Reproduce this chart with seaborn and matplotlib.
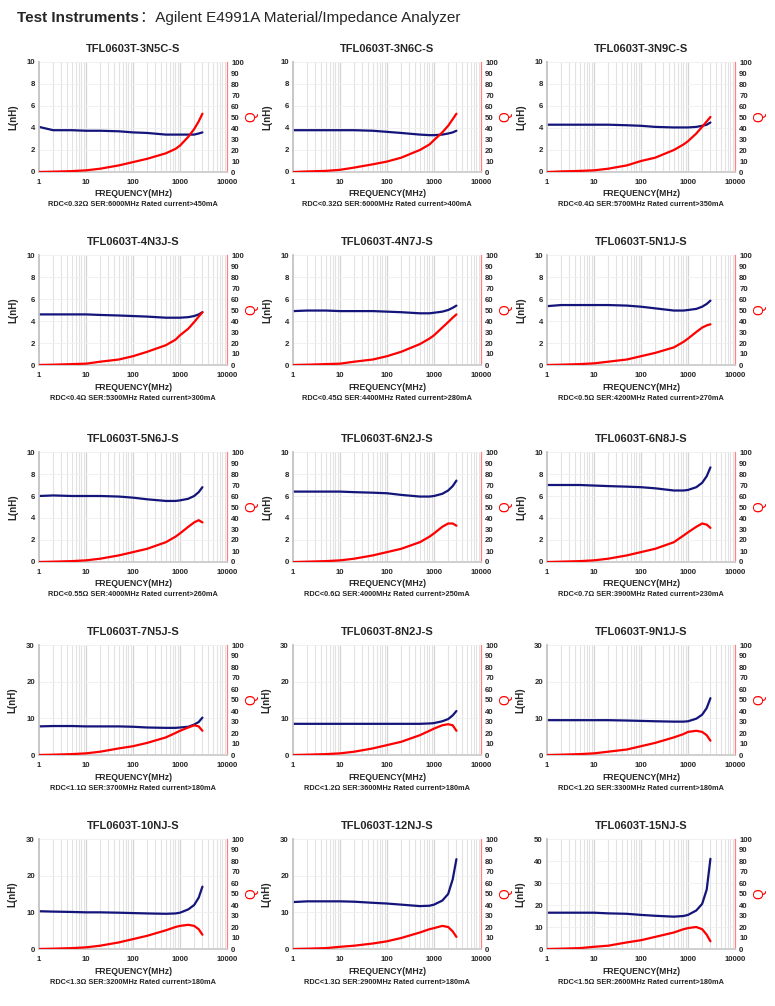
import numpy as np
import matplotlib
matplotlib.use("Agg")
import matplotlib.pyplot as plt
import seaborn as sns
from matplotlib.ticker import FixedLocator, NullFormatter

# frequency sample points (MHz) shared by all curves
FREQ = [1, 2, 5, 10, 20, 50, 100, 200, 500, 800, 1000, 1500, 2000, 2500, 3000]

titles = [
    "TFL0603T-3N5C-S", "TFL0603T-3N6C-S", "TFL0603T-3N9C-S",
    "TFL0603T-4N3J-S", "TFL0603T-4N7J-S", "TFL0603T-5N1J-S",
    "TFL0603T-5N6J-S", "TFL0603T-6N2J-S", "TFL0603T-6N8J-S",
    "TFL0603T-7N5J-S", "TFL0603T-8N2J-S", "TFL0603T-9N1J-S",
    "TFL0603T-10NJ-S", "TFL0603T-12NJ-S", "TFL0603T-15NJ-S",
]

footers = [
    "RDC<0.32Ω SER:6000MHz Rated current>450mA",
    "RDC<0.32Ω SER:6000MHz Rated current>400mA",
    "RDC<0.4Ω SER:5700MHz Rated current>350mA",
    "RDC<0.4Ω SER:5300MHz Rated current>300mA",
    "RDC<0.45Ω SER:4400MHz Rated current>280mA",
    "RDC<0.5Ω SER:4200MHz Rated current>270mA",
    "RDC<0.55Ω SER:4000MHz Rated current>260mA",
    "RDC<0.6Ω SER:4000MHz Rated current>250mA",
    "RDC<0.7Ω SER:3900MHz Rated current>230mA",
    "RDC<1.1Ω SER:3700MHz Rated current>180mA",
    "RDC<1.2Ω SER:3600MHz Rated current>180mA",
    "RDC<1.2Ω SER:3300MHz Rated current>180mA",
    "RDC<1.3Ω SER:3200MHz Rated current>180mA",
    "RDC<1.3Ω SER:2900MHz Rated current>180mA",
    "RDC<1.5Ω SER:2600MHz Rated current>180mA",
]

# upper limit and tick step of the L axis for each panel
l_max = [10, 10, 10, 10, 10, 10, 10, 10, 10, 30, 30, 30, 30, 30, 50]
l_step = [2, 2, 2, 2, 2, 2, 2, 2, 2, 10, 10, 10, 10, 10, 10]

# inductance L (nH) read at FREQ
l_curves = [
    [4.1, 3.8, 3.8, 3.75, 3.75, 3.7, 3.6, 3.55, 3.4, 3.4, 3.4, 3.4, 3.4, 3.5, 3.6],
    [3.8, 3.8, 3.8, 3.8, 3.8, 3.75, 3.65, 3.55, 3.4, 3.35, 3.35, 3.4, 3.5, 3.6, 3.75],
    [4.3, 4.3, 4.3, 4.3, 4.3, 4.25, 4.2, 4.1, 4.05, 4.05, 4.05, 4.1, 4.2, 4.3, 4.5],
    [4.6, 4.6, 4.6, 4.6, 4.55, 4.5, 4.45, 4.4, 4.3, 4.3, 4.3, 4.35, 4.45, 4.6, 4.8],
    [4.9, 4.95, 4.95, 4.9, 4.9, 4.9, 4.85, 4.8, 4.7, 4.7, 4.75, 4.85, 5.0, 5.2, 5.4],
    [5.35, 5.45, 5.45, 5.45, 5.45, 5.4, 5.3, 5.15, 4.95, 4.95, 5.0, 5.1, 5.3, 5.55, 5.85],
    [6.0, 6.05, 6.0, 6.0, 6.0, 5.95, 5.85, 5.7, 5.55, 5.55, 5.6, 5.75, 6.0, 6.35, 6.8],
    [6.4, 6.4, 6.4, 6.4, 6.35, 6.3, 6.25, 6.1, 5.95, 5.95, 6.0, 6.2, 6.5, 6.9, 7.4],
    [7.0, 7.0, 7.0, 6.95, 6.9, 6.85, 6.8, 6.7, 6.5, 6.5, 6.55, 6.8, 7.2, 7.8, 8.6],
    [7.8, 7.9, 7.9, 7.8, 7.8, 7.8, 7.7, 7.5, 7.4, 7.4, 7.5, 7.7, 8.3, 9.0, 10.2],
    [8.5, 8.5, 8.5, 8.5, 8.5, 8.5, 8.5, 8.5, 8.5, 8.6, 8.7, 9.2, 9.8, 10.8, 12.0],
    [9.5, 9.5, 9.5, 9.5, 9.5, 9.4, 9.3, 9.2, 9.1, 9.1, 9.2, 9.9, 11.0, 12.8, 15.5],
    [10.3, 10.2, 10.1, 10.0, 10.0, 9.9, 9.8, 9.7, 9.6, 9.7, 9.9, 10.8, 12.0, 14.0, 17.0],
    [12.8, 13.0, 13.0, 13.0, 12.9, 12.6, 12.4, 12.1, 11.7, 11.8, 12.1, 13.2, 15.0, 19.0, 24.5],
    [16.5, 16.5, 16.5, 16.5, 16.2, 16.0, 15.5, 15.1, 14.7, 15.0, 15.5, 17.5, 20.5, 27.0, 41.0],
]

# quality factor Q read at FREQ
q_curves = [
    [0, 0.3, 0.8, 1.5, 3, 6, 9, 12, 17, 21, 24, 32, 39, 46, 53],
    [0, 0.5, 1, 2, 4, 7, 9.5, 13, 20, 25, 29, 36, 42, 48, 53],
    [0, 0.5, 1, 1.5, 3, 6, 10, 13, 20, 25, 28, 35, 41, 46, 50],
    [0, 0.3, 0.8, 1.2, 3, 5, 8, 12, 18, 23, 27, 33, 39, 44, 48],
    [0, 0.3, 0.8, 1.2, 3, 5, 8, 12, 19, 24, 27, 34, 39, 43, 46],
    [0, 0.3, 0.8, 1.5, 3, 5, 8, 11, 16, 21, 24, 30, 34, 36, 37],
    [0, 0.3, 0.8, 1.5, 3, 6, 9, 12, 18, 23, 26, 32, 36, 38, 36],
    [0, 0.3, 0.8, 1.5, 3, 6, 9, 12, 18, 23, 26, 32, 35, 35, 33],
    [0, 0.3, 0.8, 1.5, 3, 6, 9, 12, 18, 24, 27, 32, 35, 34, 31],
    [0, 0.3, 0.8, 1.5, 3, 6, 8, 11, 16, 20, 22, 25, 27, 26, 22],
    [0, 0.3, 0.8, 1.5, 3, 6, 9, 12, 18, 22, 24, 27, 28, 27, 22],
    [0, 0.3, 0.8, 1.5, 3, 5, 8, 11, 16, 19, 21, 22, 21, 18, 13],
    [0, 0.3, 0.8, 1.5, 3, 6, 9, 12, 17, 20, 21, 22, 21, 18, 13],
    [0, 0.3, 0.8, 2, 3, 5, 7, 10, 15, 18, 19, 21, 20, 16, 11],
    [0, 0.3, 0.8, 2, 3, 6, 8, 11, 15, 18, 19, 20, 18, 13, 7],
]

freq_ticks = [1, 10, 100, 1000, 10000]
freq_labels = ["1", "10", "100", "1000", "10000"]

sns.set_theme(style="white")
plt.rcParams['font.family'] = ['Liberation Sans', 'Noto Sans CJK SC', 'DejaVu Sans']

W, H = 775, 1006
fig = plt.figure(figsize=(W / 100, H / 100), dpi=100)

col_left = [39, 293, 547]
row_top = [62, 255, 452, 645, 839]
ax_w, ax_h = 188, 110

BLUE = "#14157a"
RED = "#ff0000"
minor = [m * 10 ** d for d in range(4) for m in range(2, 10)]

for i in range(15):
    r, c = divmod(i, 3)
    x0, y0 = col_left[c], row_top[r]
    ax = fig.add_axes([x0 / W, 1 - (y0 + ax_h) / H, ax_w / W, ax_h / H])
    ax2 = ax.twinx()

    ax.set_xscale("log")
    ax.set_xlim(1, 10000)
    ax.set_ylim(0, l_max[i])
    ax2.set_ylim(0, 100)

    # grid: light vertical lines at every log tick, faint horizontal ones
    for xv in minor:
        ax.axvline(xv, color="#e2e2e2", lw=0.8, zorder=0)
    for xv in freq_ticks[1:-1]:
        ax.axvline(xv, color="#d4d4d4", lw=0.9, zorder=0)
    for yv in np.arange(l_step[i], l_max[i] + 0.01, l_step[i]):
        ax.axhline(yv, color="#efefef", lw=0.6, zorder=0)

    sns.lineplot(x=FREQ, y=l_curves[i], ax=ax, color=BLUE, lw=1.6, zorder=3)
    sns.lineplot(x=FREQ, y=q_curves[i], ax=ax2, color=RED, lw=1.6, zorder=3)
    ax2.set_xlim(1, 10000)

    ax.xaxis.set_major_locator(FixedLocator(freq_ticks))
    ax.set_xticklabels(freq_labels)
    ax.xaxis.set_minor_formatter(NullFormatter())
    ax.set_yticks(np.arange(0, l_max[i] + 0.01, l_step[i]))
    ax.set_yticklabels([f"{v:g}" for v in np.arange(0, l_max[i] + 0.01, l_step[i])])
    ax2.set_yticks(range(0, 101, 10))

    for a in (ax, ax2):
        a.tick_params(axis="both", which="both", length=0, pad=3, labelsize=5.6)
        for lbl in a.get_xticklabels() + a.get_yticklabels():
            lbl.set_fontweight("bold")
        a.spines["top"].set_visible(False)
        a.spines["bottom"].set_color("#d0d0d0")
        a.spines["left"].set_color("#c8c8c8")
        a.spines["right"].set_color("#ff8080")
        a.spines["right"].set_linewidth(0.8)
    ax.tick_params(axis="x", pad=5)
    ax.set_facecolor("none")

    ax.set_ylabel("L(nH)", fontsize=7, fontweight="bold", labelpad=6)
    ax.set_xlabel("")
    ax2.set_ylabel("Q", fontsize=10, color=RED, rotation=90)
    ax2.yaxis.set_label_coords(1.095, 0.5)

    cx = (x0 + ax_w / 2) / W
    fig.text(cx, 1 - (y0 - 13) / H, titles[i], ha="center", va="center",
             fontsize=8, fontweight="bold")
    fig.text(cx, 1 - (y0 + ax_h + 22) / H, "FREQUENCY(MHz)", ha="center",
             va="center", fontsize=6.2, fontweight="bold")
    fig.text(cx, 1 - (y0 + ax_h + 33) / H, footers[i], ha="center",
             va="center", fontsize=5.3, fontweight="bold")

head = fig.text(17 / W, 1 - 18 / H, "Test Instruments", fontsize=11, fontweight="bold",
                va="center", ha="left")
renderer = fig.canvas.get_renderer()
bb = head.get_window_extent(renderer=renderer)
fig.text((bb.x1 + 1) / W, 1 - 18 / H, "：Agilent E4991A Material/Impedance Analyzer",
         fontsize=11, va="center", ha="left")

fig.savefig("out.png", dpi=100, facecolor="white")
